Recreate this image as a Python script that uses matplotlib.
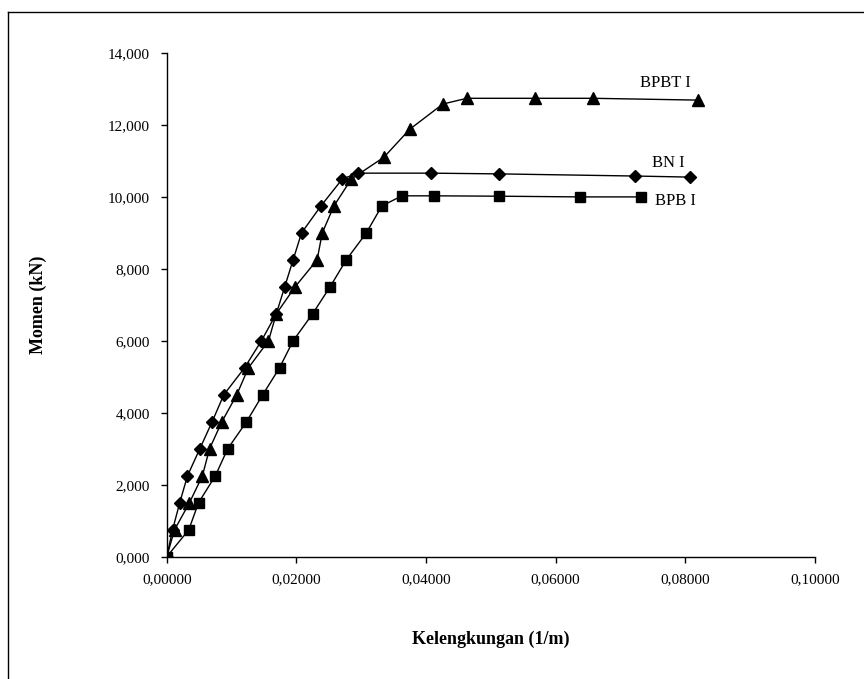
import matplotlib
matplotlib.use("Agg")
import matplotlib.pyplot as plt
from matplotlib.lines import Line2D
from matplotlib.ticker import FuncFormatter

# Moment-curvature data (curvature in 1/m, moment in kN)
bn_k = [0.0, 0.0009, 0.0020, 0.0032, 0.0051, 0.0070, 0.0088, 0.0120, 0.0146,
        0.0169, 0.0182, 0.0195, 0.0208, 0.0238, 0.0271, 0.0295, 0.0408,
        0.0512, 0.0723, 0.0808]
bn_m = [0, 750, 1500, 2250, 3000, 3750, 4500, 5250, 6000, 6750, 7500, 8250,
        9000, 9750, 10500, 10660, 10660, 10640, 10580, 10550]

bpbt_k = [0.0, 0.0012, 0.0035, 0.0055, 0.0066, 0.0085, 0.0108, 0.0126,
          0.0157, 0.0169, 0.0198, 0.0232, 0.0240, 0.0258, 0.0285, 0.0335,
          0.0375, 0.0426, 0.0463, 0.0568, 0.0658, 0.0820]
bpbt_m = [0, 750, 1500, 2250, 3000, 3750, 4500, 5250, 6000, 6750, 7500, 8250,
          9000, 9750, 10500, 11100, 11880, 12580, 12740, 12740, 12740, 12690]

bpb_k = [0.0, 0.0034, 0.0049, 0.0075, 0.0094, 0.0123, 0.0148, 0.0174, 0.0195,
         0.0225, 0.0252, 0.0277, 0.0308, 0.0332, 0.0363, 0.0412, 0.0512,
         0.0638, 0.0732]
bpb_m = [0, 750, 1500, 2250, 3000, 3750, 4500, 5250, 6000, 6750, 7500, 8250,
         9000, 9750, 10030, 10030, 10020, 10000, 10000]

series_names = ["BN I", "BPBT I", "BPB I"]
x_ticks = [0.0, 0.02, 0.04, 0.06, 0.08, 0.10]
y_ticks = [0, 2000, 4000, 6000, 8000, 10000, 12000, 14000]

serif = "Liberation Serif"

fig = plt.figure(figsize=(8.64, 6.79), dpi=100)
ax = fig.add_axes([0.193, 0.180, 0.750, 0.742])

ax.plot(bn_k, bn_m, color="black", lw=1.0, marker="D", ms=6.5,
        markerfacecolor="black", markeredgecolor="black", zorder=3)
ax.plot(bpbt_k, bpbt_m, color="black", lw=1.0, marker="^", ms=8,
        markerfacecolor="black", markeredgecolor="black", zorder=3)
ax.plot(bpb_k, bpb_m, color="black", lw=1.0, marker="s", ms=7,
        markerfacecolor="black", markeredgecolor="black", zorder=3)

ax.set_xlim(0, 0.10)
ax.set_ylim(0, 14000)
ax.set_xticks(x_ticks)
ax.set_yticks(y_ticks)
ax.xaxis.set_major_formatter(FuncFormatter(lambda v, p: f"{v:.5f}".replace(".", ",")))
ax.yaxis.set_major_formatter(FuncFormatter(lambda v, p: f"{v/1000:.3f}".replace(".", ",")))

for side in ("top", "right"):
    ax.spines[side].set_visible(False)
for side in ("left", "bottom"):
    ax.spines[side].set_linewidth(1.0)
ax.tick_params(axis="both", direction="out", length=4, width=1.0,
               labelsize=11, pad=8)
for lbl in ax.get_xticklabels() + ax.get_yticklabels():
    lbl.set_fontfamily(serif)

ax.set_xlabel("Kelengkungan (1/m)", fontfamily=serif, fontweight="bold",
              fontsize=13, labelpad=32)
ax.set_ylabel("Momen (kN)", fontfamily=serif, fontweight="bold",
              fontsize=13, labelpad=44)

# Series labels at the end of each curve
ax.text(0.0769, 13160, "BPBT I", fontfamily=serif, fontsize=12,
        ha="center", va="center")
ax.text(0.0774, 10940, "BN I", fontfamily=serif, fontsize=12,
        ha="center", va="center")
ax.text(0.0754, 9890, "BPB I", fontfamily=serif, fontsize=12,
        ha="left", va="center")

# Frame lines along the left and top edges of the figure
fig.add_artist(Line2D([8 / 864, 8 / 864], [0.0, 1 - 12 / 679],
                      transform=fig.transFigure, color="black", lw=1.0))
fig.add_artist(Line2D([8 / 864, 1.0], [1 - 12 / 679, 1 - 12 / 679],
                      transform=fig.transFigure, color="black", lw=1.0))

fig.savefig("out.png", dpi=100)
